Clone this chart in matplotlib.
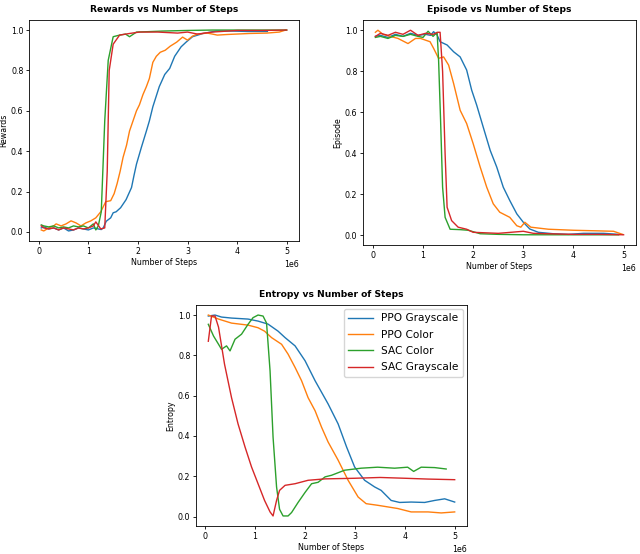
import matplotlib
matplotlib.use("Agg")
import matplotlib.pyplot as plt

# ---------------- data (x in millions of steps) ----------------
labels = ["PPO Grayscale", "PPO Color", "SAC Color", "SAC Grayscale"]
colors = ["#1f77b4", "#ff7f0e", "#2ca02c", "#d62728"]

# Rewards
rew_ppo_gray_x = [0.05, 0.1, 0.2, 0.3, 0.4, 0.5, 0.6, 0.7, 0.8, 0.9, 1.0, 1.1, 1.2, 1.26, 1.3, 1.36, 1.45, 1.5, 1.56, 1.65, 1.76, 1.87, 1.92, 1.97, 2.07, 2.17, 2.23, 2.3, 2.43, 2.54, 2.64, 2.74, 2.87, 2.97, 3.1, 3.31, 3.58, 3.9, 4.2, 4.61]
rew_ppo_gray_y = [0.02, 0.025, 0.015, 0.02, 0.01, 0.02, 0.005, 0.01, 0.02, 0.015, 0.01, 0.02, 0.015, 0.012, 0.02, 0.053, 0.07, 0.095, 0.1, 0.12, 0.16, 0.22, 0.28, 0.336, 0.42, 0.5, 0.55, 0.62, 0.72, 0.78, 0.81, 0.87, 0.917, 0.94, 0.967, 0.983, 0.995, 0.995, 0.993, 0.993]
rew_ppo_col_x = [0.05, 0.1, 0.2, 0.3, 0.35, 0.45, 0.55, 0.65, 0.75, 0.85, 0.95, 1.05, 1.15, 1.25, 1.35, 1.45, 1.52, 1.58, 1.64, 1.7, 1.77, 1.83, 1.9, 1.97, 2.03, 2.1, 2.17, 2.23, 2.3, 2.37, 2.45, 2.55, 2.65, 2.78, 2.9, 3.0, 3.1, 3.2, 3.4, 3.6, 3.8, 4.25, 4.6, 4.85, 4.98]
rew_ppo_col_y = [0.01, 0.005, 0.02, 0.03, 0.04, 0.03, 0.04, 0.055, 0.045, 0.03, 0.045, 0.055, 0.07, 0.1, 0.15, 0.155, 0.19, 0.24, 0.3, 0.37, 0.43, 0.5, 0.55, 0.6, 0.63, 0.68, 0.72, 0.76, 0.84, 0.87, 0.89, 0.9, 0.92, 0.94, 0.965, 0.95, 0.97, 0.98, 0.985, 0.975, 0.978, 0.983, 0.985, 0.99, 1.0]
rew_sac_col_x = [0.05, 0.1, 0.2, 0.3, 0.4, 0.5, 0.6, 0.7, 0.8, 0.9, 1.0, 1.1, 1.15, 1.2, 1.26, 1.33, 1.4, 1.5, 1.63, 1.75, 1.83, 1.97, 2.2, 2.5, 3.0, 3.5, 4.0, 4.5, 5.0]
rew_sac_col_y = [0.035, 0.03, 0.025, 0.03, 0.02, 0.025, 0.02, 0.03, 0.025, 0.03, 0.02, 0.04, 0.01, 0.03, 0.1, 0.55, 0.85, 0.967, 0.975, 0.98, 0.967, 0.99, 0.992, 0.995, 0.998, 1.0, 1.0, 1.0, 1.0]
rew_sac_gray_x = [0.05, 0.1, 0.2, 0.3, 0.4, 0.5, 0.6, 0.7, 0.8, 0.9, 1.0, 1.1, 1.15, 1.25, 1.33, 1.38, 1.42, 1.5, 1.63, 1.83, 2.03, 2.4, 2.8, 3.0, 3.2, 3.5, 4.0, 4.5, 5.0]
rew_sac_gray_y = [0.03, 0.02, 0.015, 0.02, 0.01, 0.02, 0.015, 0.01, 0.02, 0.015, 0.02, 0.03, 0.05, 0.015, 0.02, 0.30, 0.80, 0.93, 0.975, 0.983, 0.99, 0.99, 0.985, 0.99, 0.98, 0.99, 0.998, 0.998, 1.0]

# Episode
ep_ppo_gray_x = [0.05, 0.15, 0.3, 0.45, 0.6, 0.75, 0.9, 1.05, 1.15, 1.21, 1.28, 1.34, 1.48, 1.61, 1.74, 1.87, 1.97, 2.07, 2.2, 2.34, 2.47, 2.6, 2.73, 2.87, 3.0, 3.13, 3.3, 3.6, 3.9, 4.2, 4.6, 4.9]
ep_ppo_gray_y = [0.97, 0.975, 0.965, 0.98, 0.97, 0.985, 0.975, 0.98, 0.975, 0.993, 0.977, 0.944, 0.928, 0.895, 0.87, 0.806, 0.708, 0.635, 0.528, 0.414, 0.333, 0.235, 0.17, 0.105, 0.064, 0.031, 0.015, 0.008, 0.005, 0.01, 0.01, 0.005]
ep_ppo_col_x = [0.05, 0.1, 0.2, 0.35, 0.5, 0.7, 0.85, 0.95, 1.14, 1.21, 1.31, 1.41, 1.51, 1.61, 1.74, 1.87, 2.0, 2.14, 2.27, 2.4, 2.53, 2.73, 2.87, 2.95, 3.03, 3.15, 3.5, 4.0, 4.5, 4.8, 4.98]
ep_ppo_col_y = [0.99, 1.0, 0.98, 0.97, 0.96, 0.935, 0.96, 0.96, 0.944, 0.912, 0.863, 0.87, 0.83, 0.74, 0.61, 0.545, 0.447, 0.333, 0.235, 0.154, 0.113, 0.088, 0.047, 0.04, 0.064, 0.04, 0.03, 0.025, 0.022, 0.02, 0.005]
ep_sac_col_x = [0.05, 0.15, 0.3, 0.45, 0.6, 0.75, 0.9, 1.0, 1.1, 1.2, 1.28, 1.31, 1.35, 1.39, 1.44, 1.54, 1.74, 1.9, 2.14, 2.5, 3.0, 3.5, 4.0, 4.5, 4.9]
ep_sac_col_y = [0.965, 0.97, 0.96, 0.975, 0.97, 0.98, 0.97, 0.965, 0.995, 0.97, 0.99, 0.855, 0.56, 0.235, 0.088, 0.03, 0.028, 0.025, 0.008, 0.005, 0.003, 0.003, 0.003, 0.003, 0.003]
ep_sac_gray_x = [0.05, 0.15, 0.3, 0.45, 0.6, 0.75, 0.9, 1.05, 1.2, 1.3, 1.34, 1.39, 1.44, 1.48, 1.57, 1.7, 1.87, 2.0, 2.5, 3.0, 3.2, 3.5, 4.0, 4.5, 5.0]
ep_sac_gray_y = [0.97, 0.985, 0.975, 0.99, 0.98, 1.0, 0.975, 0.985, 0.98, 0.99, 0.99, 0.80, 0.398, 0.137, 0.072, 0.04, 0.03, 0.015, 0.01, 0.02, 0.01, 0.008, 0.005, 0.005, 0.003]

# Entropy
ent_ppo_gray_x = [0.066, 0.2, 0.33, 0.53, 0.86, 1.06, 1.26, 1.46, 1.6, 1.8, 2.0, 2.2, 2.46, 2.66, 2.83, 2.99, 3.19, 3.39, 3.52, 3.72, 3.89, 4.12, 4.39, 4.59, 4.79, 4.99]
ent_ppo_gray_y = [0.995, 1.0, 0.99, 0.985, 0.98, 0.97, 0.955, 0.92, 0.888, 0.847, 0.773, 0.674, 0.559, 0.46, 0.345, 0.246, 0.18, 0.147, 0.13, 0.08, 0.07, 0.072, 0.07, 0.08, 0.088, 0.072]
ent_ppo_col_x = [0.066, 0.27, 0.53, 0.86, 1.06, 1.19, 1.33, 1.53, 1.66, 1.8, 1.93, 2.06, 2.2, 2.33, 2.46, 2.66, 2.86, 3.06, 3.22, 3.45, 3.65, 3.85, 4.12, 4.46, 4.72, 4.99]
ent_ppo_col_y = [1.0, 0.98, 0.96, 0.95, 0.937, 0.92, 0.888, 0.855, 0.806, 0.74, 0.674, 0.59, 0.525, 0.443, 0.37, 0.28, 0.18, 0.097, 0.064, 0.056, 0.048, 0.04, 0.023, 0.023, 0.018, 0.023]
ent_sac_col_x = [0.066, 0.17, 0.27, 0.33, 0.43, 0.5, 0.6, 0.73, 0.86, 0.96, 1.06, 1.16, 1.23, 1.3, 1.36, 1.43, 1.49, 1.56, 1.66, 1.73, 1.86, 2.0, 2.13, 2.26, 2.4, 2.53, 2.79, 3.12, 3.45, 3.79, 4.05, 4.17, 4.32, 4.59, 4.82]
ent_sac_col_y = [0.954, 0.896, 0.855, 0.83, 0.847, 0.822, 0.88, 0.905, 0.954, 0.987, 1.0, 0.995, 0.96, 0.723, 0.394, 0.147, 0.036, 0.003, 0.003, 0.02, 0.07, 0.12, 0.163, 0.17, 0.197, 0.205, 0.23, 0.24, 0.245, 0.24, 0.245, 0.224, 0.245, 0.243, 0.236]
ent_sac_gray_x = [0.066, 0.13, 0.2, 0.27, 0.39, 0.53, 0.66, 0.8, 0.93, 1.06, 1.19, 1.3, 1.36, 1.43, 1.49, 1.6, 1.8, 2.06, 2.4, 2.99, 3.5, 4.0, 4.46, 4.99]
ent_sac_gray_y = [0.87, 0.995, 0.995, 0.94, 0.756, 0.59, 0.46, 0.345, 0.246, 0.163, 0.08, 0.023, 0.003, 0.08, 0.13, 0.155, 0.163, 0.18, 0.187, 0.19, 0.194, 0.19, 0.186, 0.183]

SCALE = 1e6

plt.rcParams['font.family'] = ['DejaVu Sans']
fig = plt.figure(figsize=(6.4, 5.54), dpi=100)

TICK_FS = 5.7
LABEL_FS = 5.7
TITLE_FS = 6.6
LW = 1.0


def make_axes(rect, title, ylabel, series):
    ax = fig.add_axes(rect)
    for (xs, ys), c, lab in zip(series, colors, labels):
        ax.plot([v * SCALE for v in xs], ys, color=c, lw=LW, label=lab)
    ax.set_title(title, fontsize=TITLE_FS, fontweight='bold', pad=6)
    ax.set_xlabel("Number of Steps", fontsize=LABEL_FS, labelpad=1.5)
    ax.set_ylabel(ylabel, fontsize=LABEL_FS, labelpad=2)
    ax.tick_params(labelsize=TICK_FS, length=2.2, width=0.6, pad=1.8)
    ax.xaxis.get_offset_text().set_fontsize(TICK_FS)
    for s in ax.spines.values():
        s.set_linewidth(0.6)
    return ax


W, H = 640.0, 554.0
def rect(l, t, r, b):
    return [l / W, 1 - b / H, (r - l) / W, (b - t) / H]

ax1 = make_axes(rect(29, 20, 299, 241), "Rewards vs Number of Steps", "Rewards",
                [(rew_ppo_gray_x, rew_ppo_gray_y), (rew_ppo_col_x, rew_ppo_col_y),
                 (rew_sac_col_x, rew_sac_col_y), (rew_sac_gray_x, rew_sac_gray_y)])
ax2 = make_axes(rect(363, 20, 636, 245), "Episode vs Number of Steps", "Episode",
                [(ep_ppo_gray_x, ep_ppo_gray_y), (ep_ppo_col_x, ep_ppo_col_y),
                 (ep_sac_col_x, ep_sac_col_y), (ep_sac_gray_x, ep_sac_gray_y)])
ax3 = make_axes(rect(196, 305, 467, 526), "Entropy vs Number of Steps", "Entropy",
                [(ent_ppo_gray_x, ent_ppo_gray_y), (ent_ppo_col_x, ent_ppo_col_y),
                 (ent_sac_col_x, ent_sac_col_y), (ent_sac_gray_x, ent_sac_gray_y)])
ax3.legend(loc='upper right', fontsize=7.6, handlelength=2.3, labelspacing=0.6,
           borderaxespad=0.4)

fig.savefig("out.png", dpi=100)
